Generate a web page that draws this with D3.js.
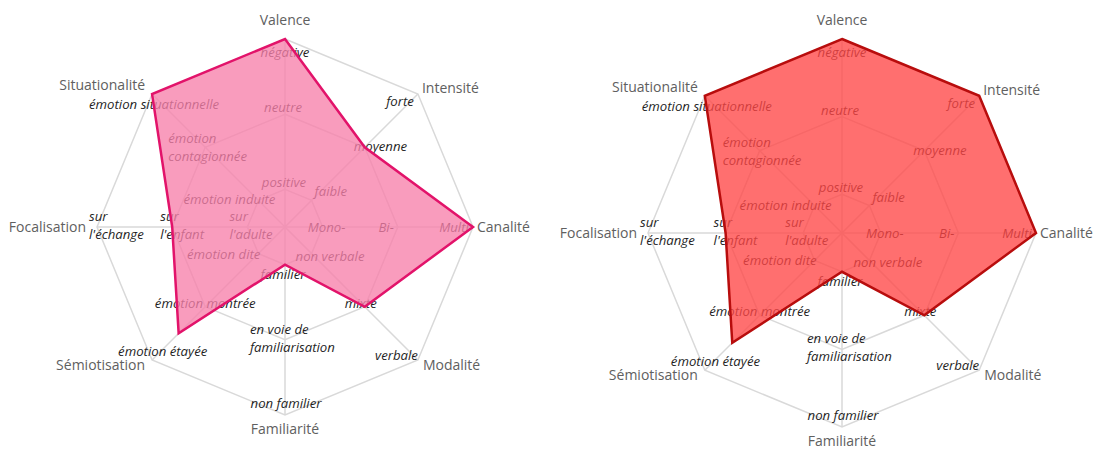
<!DOCTYPE html>
<html>
<head>
<meta charset="utf-8">
<script src="https://cdn.jsdelivr.net/npm/d3@7"></script>
<style>
  body { margin: 0; background: #fff; }
  svg { display: block; font-family: "Open Sans", sans-serif; }
</style>
</head>
<body>
<div id="chart"></div>
<script>
// axes, clockwise from the top
const axes = ["Valence", "Intensité", "Canalité", "Modalité", "Familiarité", "Sémiotisation", "Focalisation", "Situationalité"];

// labels of the three levels on each axis (inner -> outer); arrays = two lines
const levelLabels = [
  ["positive", "neutre", "négative"],
  ["faible", "moyenne", "forte"],
  ["Mono-", "Bi-", "Multi-"],
  ["non verbale", "mixte", "verbale"],
  ["familier", ["en voie de", "familiarisation"], "non familier"],
  ["émotion dite", "émotion montrée", "émotion étayée"],
  [["sur", "l'adulte"], ["sur", "l'enfant"], ["sur", "l'échange"]],
  ["émotion induite", ["émotion", "contagionnée"], "émotion situationnelle"]
];

const levels = [1, 2, 3];

// profile values (1 = inner level, 3 = outer level)
const profileLeft = [3, 2, 3, 2, 1, 2.5, 2, 3];
const profileRight = [3, 3, 3, 2, 1, 2.5, 2, 3];

// label placement: [anchor, dx, dy] for each level label, per axis
const levelPlace = [
  [["middle", -1, -2], ["middle", -2, -2], ["middle", 0, 18]],
  [["start", 3, -4], ["start", -11, 4], ["end", -4, 12]],
  [["middle", 4, 5], ["end", -4, 5], ["end", 0, 5]],
  [["start", -16, 7], ["middle", -4, 1], ["end", 0, 0]],
  [["middle", -2, 14], ["start", -35, -6], ["middle", 1, -7]],
  [["end", 2, 5], ["middle", 0, 1], ["start", -34, -4]],
  [["start", -18, -6], ["start", -12, -6], ["start", -8, -6]],
  [["end", 17, 4], ["start", -37, -4], ["middle", 2, 15]]
];
const axisPlace = [
  ["middle", 0, -14], ["start", 4, -1], ["start", 4, 5], ["start", 5, 10],
  ["middle", 0, 19], ["end", -7, 10], ["end", -11, 5], ["end", -7, -4]
];

const width = 1097, height = 452;

const svg = d3.select("#chart")
  .append("svg")
  .attr("width", width)
  .attr("height", height);

function drawRadar(cx, cy, R, values, fill, stroke) {
  const g = svg.append("g").attr("transform", `translate(${cx},${cy})`);

  const r = d3.scaleLinear().domain([0.5, 3]).range([0, R]);
  const angle = d3.scaleLinear().domain([0, axes.length]).range([0, 2 * Math.PI]);
  const pt = (i, v) => [r(v) * Math.sin(angle(i)), -r(v) * Math.cos(angle(i))];

  // grid: level octagons and spokes
  const ring = d3.line().curve(d3.curveLinearClosed);
  g.selectAll(".level")
    .data(levels)
    .enter()
    .append("path")
    .attr("class", "level")
    .attr("d", (l) => ring(axes.map((a, i) => pt(i, l))))
    .style("fill", "none")
    .style("stroke", "#d9d9d9")
    .style("stroke-width", 1.5);

  g.selectAll(".spoke")
    .data(axes)
    .enter()
    .append("line")
    .attr("class", "spoke")
    .attr("x1", (a, i) => pt(i, 0.5)[0])
    .attr("y1", (a, i) => pt(i, 0.5)[1])
    .attr("x2", (a, i) => pt(i, 3)[0])
    .attr("y2", (a, i) => pt(i, 3)[1])
    .style("stroke", "#d9d9d9")
    .style("stroke-width", 1.5);

  // level labels
  axes.forEach((a, i) => {
    levels.forEach((l, k) => {
      const [x, y] = pt(i, l);
      const [anchor, dx, dy] = levelPlace[i][k];
      const lines = [].concat(levelLabels[i][k]);
      const t = g.append("text")
        .attr("x", x + dx)
        .attr("y", y + dy)
        .attr("text-anchor", anchor)
        .style("font-size", "13.2px")
        .style("font-style", "italic")
        .style("fill", "#1f1f1f");
      lines.forEach((s, j) => {
        t.append("tspan")
          .attr("x", x + dx)
          .attr("dy", j === 0 ? 0 : 18)
          .text(s);
      });
    });
  });

  // axis names
  g.selectAll(".axis-name")
    .data(axes)
    .enter()
    .append("text")
    .attr("class", "axis-name")
    .attr("x", (a, i) => pt(i, 3)[0] + axisPlace[i][1])
    .attr("y", (a, i) => pt(i, 3)[1] + axisPlace[i][2])
    .attr("text-anchor", (a, i) => axisPlace[i][0])
    .style("font-size", "14px")
    .style("fill", "#606060")
    .text((a) => a);

  // profile polygon, drawn over the labels
  g.append("path")
    .attr("d", ring(values.map((v, i) => pt(i, v))))
    .style("fill", fill)
    .style("fill-opacity", 0.78)
    .style("stroke", stroke)
    .style("stroke-width", 2.5)
    .style("stroke-linejoin", "miter");
}

drawRadar(285, 227, 188, profileLeft, "#f780aa", "#e2136a");
drawRadar(842, 233, 194, profileRight, "#ff4747", "#b80d0d");
</script>
</body>
</html>
